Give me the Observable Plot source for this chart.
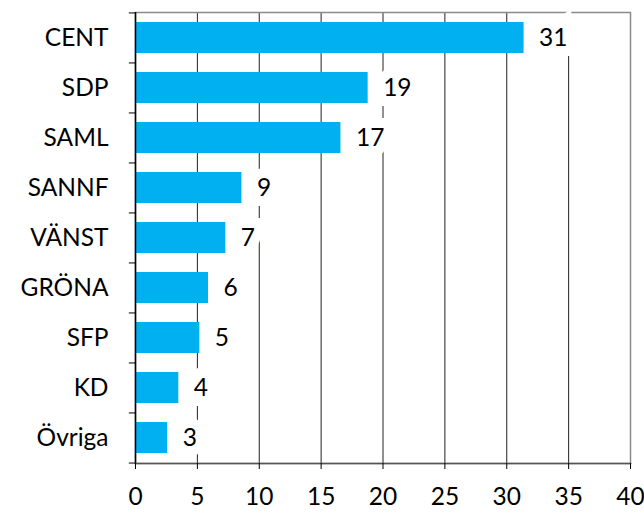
<!DOCTYPE html>
<html>
<head>
<meta charset="utf-8">
<script src="https://cdn.jsdelivr.net/npm/d3@7"></script>
<script src="https://cdn.jsdelivr.net/npm/@observablehq/plot@0.6"></script>
<style>
  html, body { margin: 0; padding: 0; background: #fff; }
</style>
</head>
<body>
<div id="chart"></div>
<script>
const parties = ["CENT", "SDP", "SAML", "SANNF", "VÄNST", "GRÖNA", "SFP", "KD", "Övriga"];
const values = [31.4, 18.8, 16.6, 8.6, 7.3, 5.9, 5.2, 3.5, 2.6];
const valueLabels = ["31", "19", "17", "9", "7", "6", "5", "4", "3"];
const xTicks = [0, 5, 10, 15, 20, 25, 30, 35, 40];

const data = parties.map((p, i) => ({party: p, value: values[i], label: valueLabels[i]}));

const W = 644, H = 514, mT = 12, mB = 51, mL = 135, mR = 14;
const step = (H - mT - mB) / parties.length;
const FS = 24.5;

const chart = Plot.plot({
  width: W, height: H,
  marginLeft: mL, marginRight: mR, marginTop: mT, marginBottom: mB,
  style: {fontFamily: "Lato, 'Open Sans', sans-serif", fontSize: FS + "px", color: "#000", background: "#fff"},
  x: {domain: [0, 40], label: null},
  y: {domain: parties, label: null, paddingInner: 0.38, paddingOuter: 0.19},
  marks: [
    Plot.ruleX(xTicks.filter(d => d > 0 && d < 40), {stroke: "#222", strokeWidth: 1}),
    Plot.frame({stroke: "#8a8a8a", strokeWidth: 1.5}),
    // value labels with a white box-like halo that hides the grid behind them
    Plot.text(data, {x: "value", y: "party", text: "label", textAnchor: "start", dx: 15,
      fill: "#000", stroke: "#fff", strokeWidth: 20, strokeLinejoin: "miter", fontSize: FS}),
    Plot.barX(data, {x: "value", y: "party", fill: "#00B0F0"}),
    Plot.ruleX([0], {stroke: "#000", strokeWidth: 1.5}),
    Plot.frame({anchor: "bottom", stroke: "#555", strokeWidth: 1.5}),
    // category boundary ticks on y axis
    Plot.ruleY(parties, {y: d => d, x1: -0.5, x2: 0, dy: -step / 2, stroke: "#000", clip: false}),
    Plot.ruleY(parties.slice(-1), {y: d => d, x1: -0.5, x2: 0, dy: step / 2, stroke: "#000", clip: false}),
    Plot.axisX({ticks: xTicks, tickSize: 6, tickPadding: 18, stroke: "#000", label: null, fontSize: FS}),
    Plot.axisY({tickSize: 0, tickPadding: 27, label: null, fontSize: FS})
  ]
});
document.getElementById("chart").appendChild(chart);
</script>
</body>
</html>
